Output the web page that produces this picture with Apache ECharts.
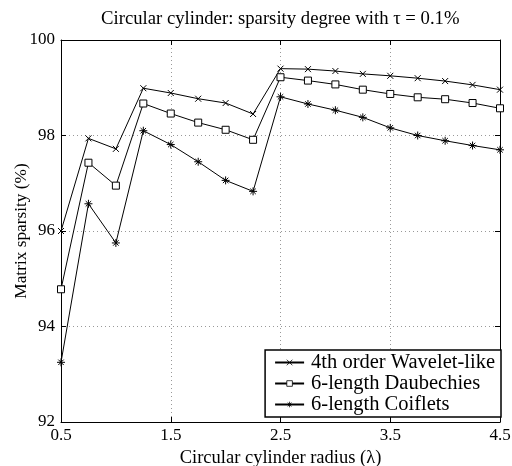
<!DOCTYPE html>
<html><head><meta charset="utf-8">
<script src="https://cdn.jsdelivr.net/npm/echarts@6/dist/echarts.min.js"></script>
<style>html,body{margin:0;padding:0;background:#fff}#c{width:512px;height:466px}</style>
</head><body><div id="c"></div>
<script>
const radius = [0.5,0.75,1.0,1.25,1.5,1.75,2.0,2.25,2.5,2.75,3.0,3.25,3.5,3.75,4.0,4.25,4.5];
const wavelet = [96.0,97.94,97.72,98.99,98.89,98.77,98.68,98.45,99.40,99.39,99.35,99.29,99.25,99.20,99.14,99.06,98.96];
const daub = [94.78,97.43,96.95,98.67,98.46,98.27,98.12,97.91,99.22,99.15,99.07,98.96,98.87,98.80,98.76,98.68,98.57];
const coif = [93.25,96.57,95.75,98.10,97.81,97.45,97.06,96.83,98.81,98.66,98.53,98.38,98.16,98.0,97.89,97.79,97.70];
const seriesNames = ['4th order Wavelet-like','6-length Daubechies','6-length Coiflets'];
const xTicks = [0.5,1.5,2.5,3.5,4.5];
const yTicks = [92,94,96,98,100];

const FONT = 'Liberation Serif';
const xMark = 'path://M0,0L10,10M10,0L0,10';
const star = 'path://M5,0L5,10M0,5L10,5M1.6,1.6L8.4,8.4M8.4,1.6L1.6,8.4';
const pairs = a => radius.map((r,i)=>[r,a[i]]);

const baseX = {type:'value', min:0.5, max:4.5, interval:1};
const baseY = {type:'value', min:92, max:100, interval:2};
const lineAxis = {show:true, onZero:false, lineStyle:{color:'#000', width:1}};
const tick = {show:true, inside:true, length:5, lineStyle:{color:'#000'}};

function mkSeries(name, data, symbol, size, fill){
  return {name, type:'line', data:pairs(data), symbol, symbolSize:size,
    showAllSymbol:true, animation:false,
    lineStyle:{color:'#000', width:1},
    itemStyle:{color:fill, borderColor:'#000', borderWidth:1}};
}

const chart = echarts.init(document.getElementById('c'), null, {renderer:'canvas'});
chart.setOption({
  backgroundColor:'#fff',
  animation:false,
  textStyle:{fontFamily:FONT},
  title:{text:'Circular cylinder: sparsity degree with \u03c4 = 0.1%', left:96, top:5,
    textStyle:{fontFamily:FONT, fontSize:18.7, fontWeight:'normal', color:'#000'}},
  grid:{left:61, right:12, top:40, bottom:44, containLabel:false, outerBoundsMode:'none'},
  xAxis:[
    Object.assign({}, baseX, {position:'bottom', axisLine:lineAxis, axisTick:Object.assign({customValues:xTicks},tick),
      axisLabel:{customValues:xTicks, color:'#000', fontFamily:FONT, fontSize:17, margin:5},
      splitLine:{show:true, customValues:xTicks, lineStyle:{color:'#999', type:[1,3], width:1}},
      name:'Circular cylinder radius (\u03bb)', nameLocation:'middle', nameGap:13,
      nameTextStyle:{color:'#000', fontFamily:FONT, fontSize:18.5}}),
    Object.assign({}, baseX, {position:'top', axisLine:lineAxis, axisTick:Object.assign({customValues:xTicks},tick),
      axisLabel:{show:false}, splitLine:{show:false}})
  ],
  yAxis:[
    Object.assign({}, baseY, {position:'left', axisLine:lineAxis, axisTick:tick,
      axisLabel:{color:'#000', fontFamily:FONT, fontSize:17, margin:6},
      splitLine:{show:true, lineStyle:{color:'#999', type:[1,3], width:1}},
      name:'Matrix sparsity (%)', nameLocation:'middle', nameGap:31, nameRotate:90, nameMoveOverlap:false,
      nameTextStyle:{color:'#000', fontFamily:FONT, fontSize:17.3}}),
    Object.assign({}, baseY, {position:'right', axisLine:lineAxis, axisTick:tick,
      axisLabel:{show:false}, splitLine:{show:false}})
  ],
  legend:{orient:'vertical', right:11, bottom:49, data:seriesNames,
    backgroundColor:'#fff', borderColor:'#000', borderWidth:1.5, borderRadius:0,
    padding:[2,6,2,9], itemGap:0, itemWidth:29, itemHeight:7,
    itemStyle:{borderWidth:0.8},
    textStyle:{fontFamily:FONT, fontSize:20.5, lineHeight:21, color:'#000', padding:[0,0,0,2]}},
  series:[
    mkSeries(seriesNames[0], wavelet, xMark, 6, '#000'),
    mkSeries(seriesNames[1], daub, 'rect', 7, '#fff'),
    mkSeries(seriesNames[2], coif, star, 8, '#000')
  ]
});
</script></body></html>
